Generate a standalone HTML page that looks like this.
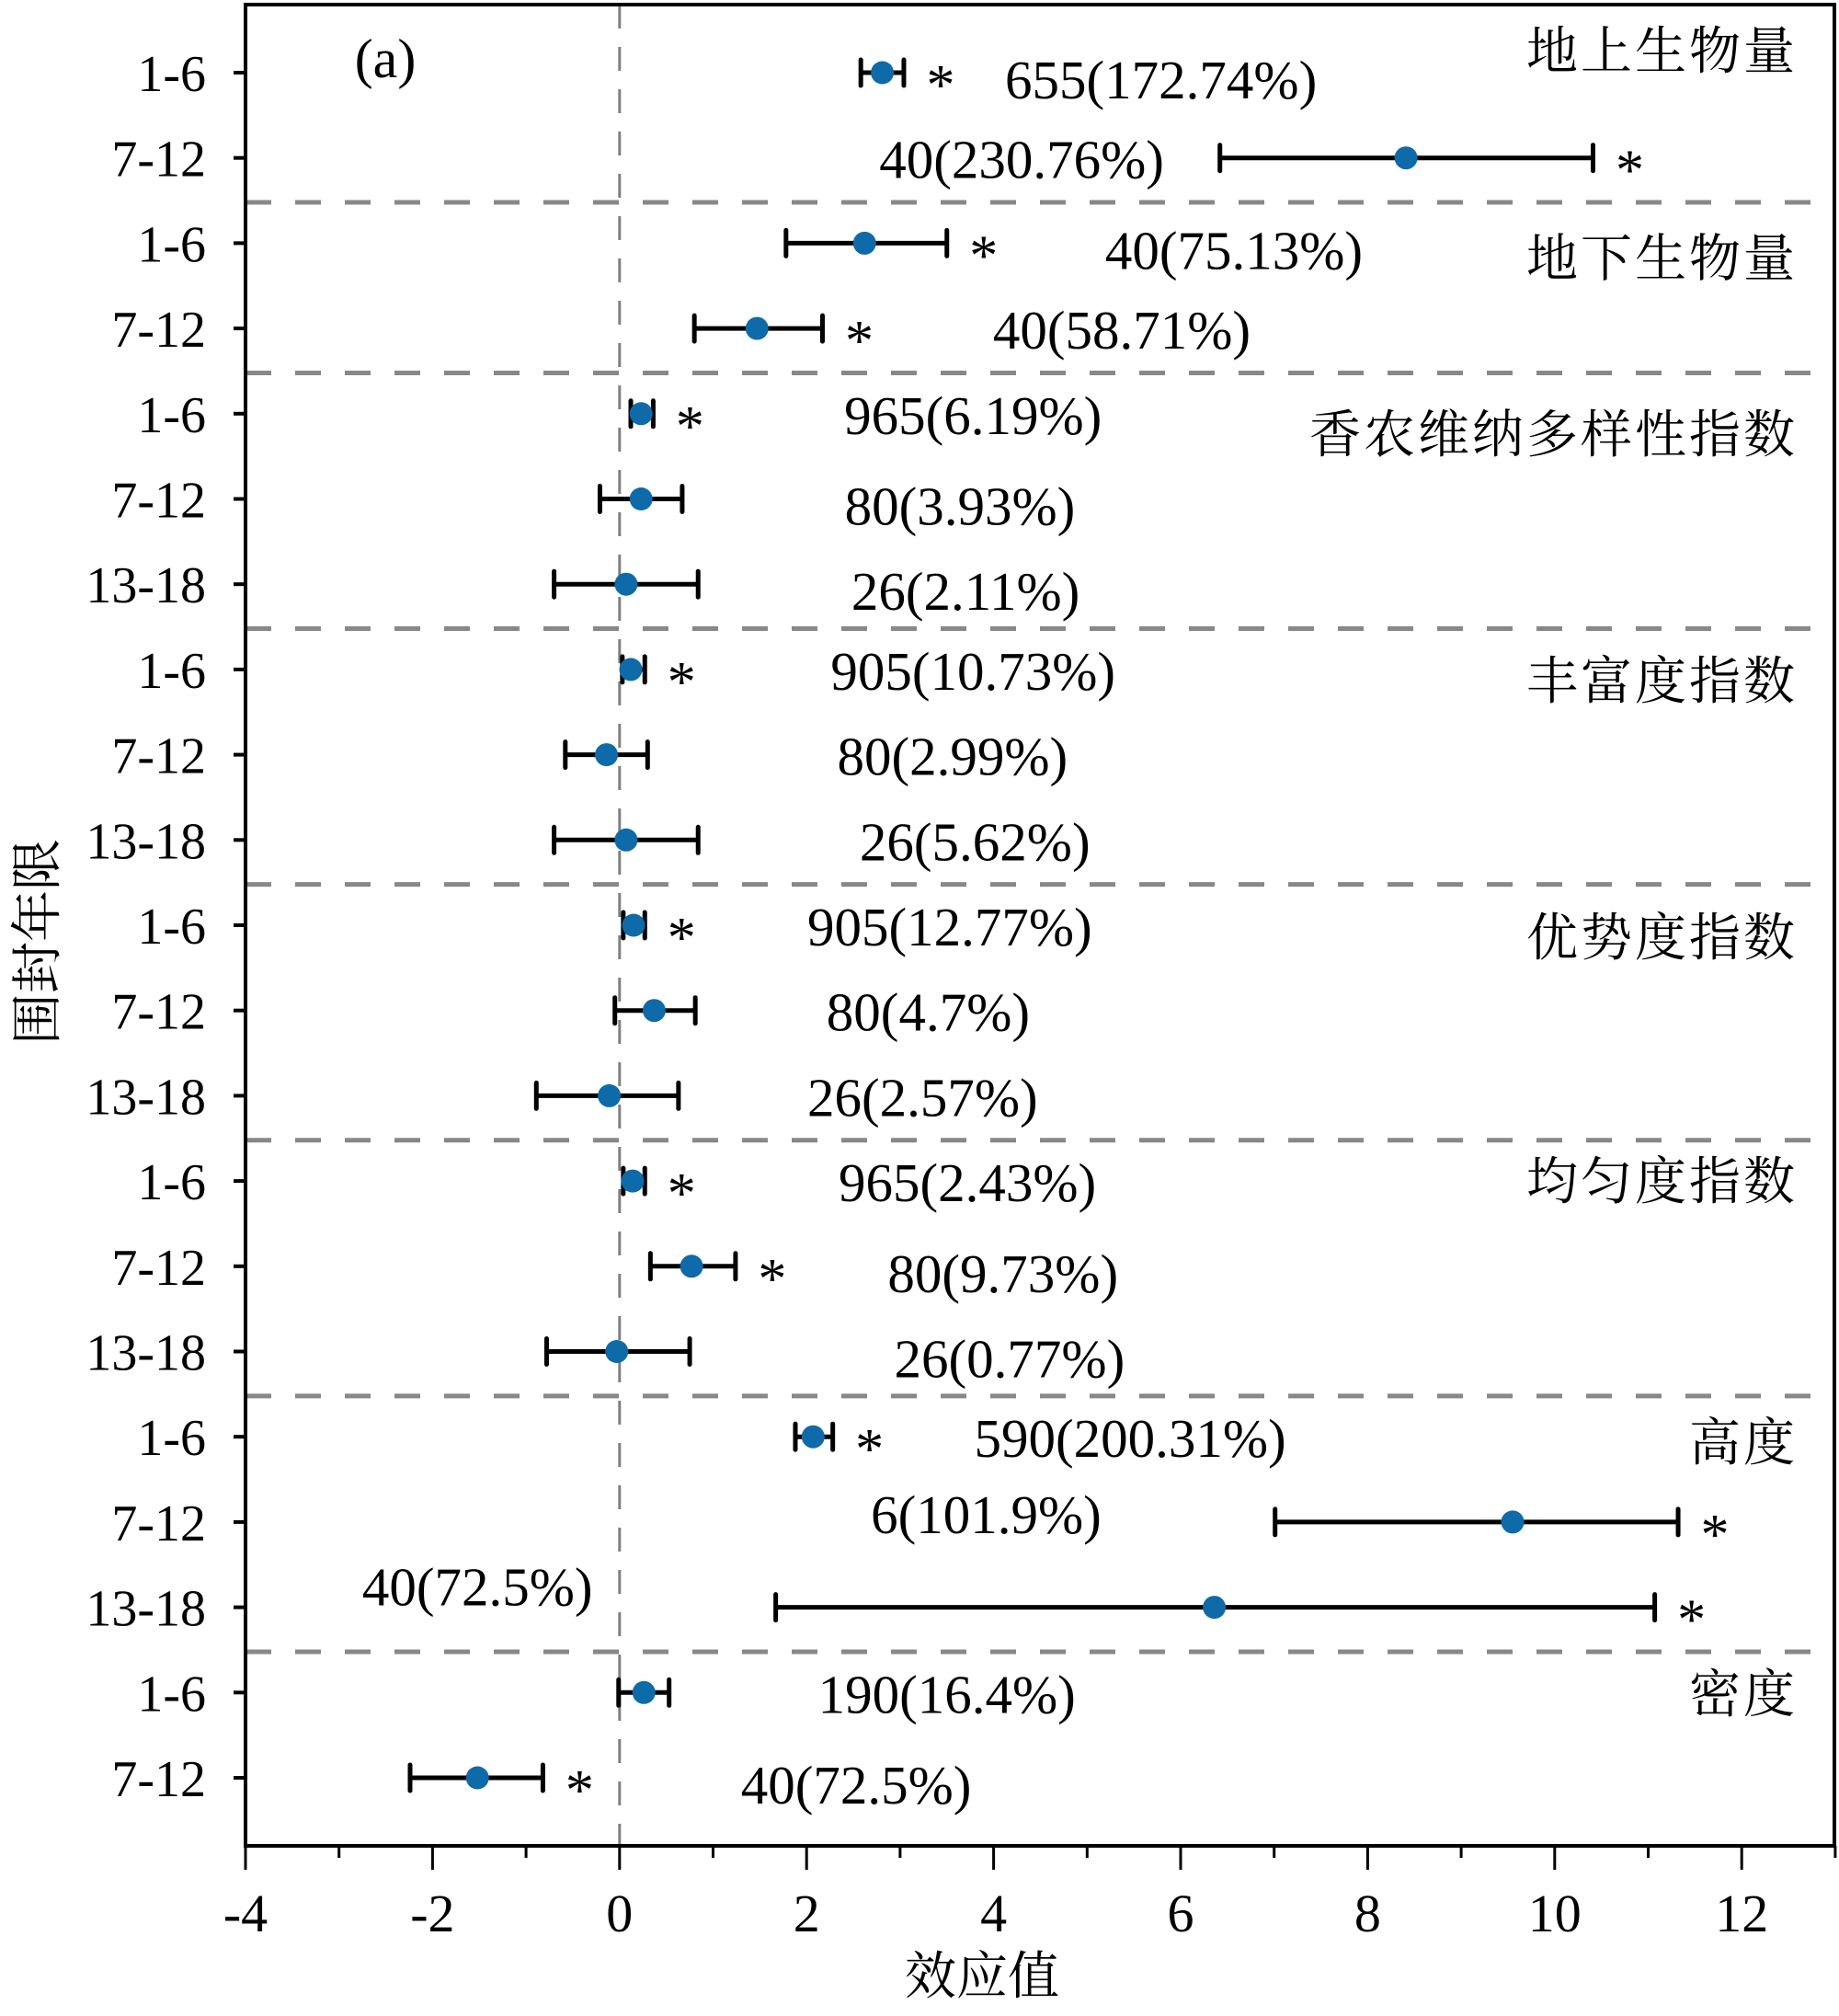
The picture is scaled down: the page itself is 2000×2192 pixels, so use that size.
<!DOCTYPE html>
<html><head><meta charset="utf-8">
<style>
html,body{margin:0;padding:0;background:#fff;}
svg{display:block;}
text{font-family:"Liberation Serif","Noto Serif CJK SC",serif;fill:#000;}
.cjk{font-family:"Noto Serif CJK SC","Liberation Serif",serif;}
</style></head>
<body>
<svg id="chart" width="2000" height="2192" viewBox="0 0 2000 2192" xmlns="http://www.w3.org/2000/svg">
<g id="grid"></g>
<g id="axes"></g>
<g id="marks"></g>
<text x="419" y="84" font-size="60" text-anchor="middle">(a)</text>
<text x="1068" y="2168" font-size="56" text-anchor="middle" class="cjk">效应值</text>
<text transform="translate(60,1024) rotate(-90)" font-size="56" text-anchor="middle" class="cjk">围封年限</text>
</svg>
<script>
const rowLabels = ["1-6","7-12","1-6","7-12","1-6","7-12","13-18","1-6","7-12","13-18","1-6","7-12","13-18","1-6","7-12","13-18","1-6","7-12","13-18","1-6","7-12"];
const means = [2.81,8.41,2.62,1.47,0.23,0.23,0.07,0.12,-0.14,0.07,0.15,0.37,-0.11,0.14,0.77,-0.03,2.07,9.55,6.36,0.26,-1.52];
const lows  = [2.58,6.42,1.78,0.80,0.12,-0.21,-0.70,0.03,-0.58,-0.70,0.04,-0.05,-0.89,0.04,0.33,-0.78,1.88,7.01,1.67,-0.01,-2.24];
const highs = [3.04,10.41,3.50,2.17,0.36,0.67,0.84,0.27,0.30,0.84,0.27,0.81,0.63,0.27,1.24,0.75,2.28,11.32,11.07,0.53,-0.82];
const signif = [1,1,1,1,1,0,0,1,0,0,1,0,0,1,1,0,1,1,1,0,1];
const nLabels = ["655(172.74%)","40(230.76%)","40(75.13%)","40(58.71%)","965(6.19%)","80(3.93%)","26(2.11%)","905(10.73%)","80(2.99%)","26(5.62%)","905(12.77%)","80(4.7%)","26(2.57%)","965(2.43%)","80(9.73%)","26(0.77%)","590(200.31%)","6(101.9%)","40(72.5%)","190(16.4%)","40(72.5%)"];
const labelAt = [5.79,4.3,6.57,5.37,3.78,3.64,3.70,3.78,3.56,3.80,3.53,3.30,3.24,3.72,4.10,4.17,5.46,3.92,-1.52,3.50,2.53];
const groupNames = ["地上生物量","地下生物量","香农维纳多样性指数","丰富度指数","优势度指数","均匀度指数","高度","密度"];
const groupSizes = [2,2,3,3,3,3,3,2];
const xTicks = [-4,-2,0,2,4,6,8,10,12];

const NS="http://www.w3.org/2000/svg";
const L=267,R=1995,T=5,B=2007,X0=-4,PX=101.7;
const xs=v=>L+(v-X0)*PX;
const ys=i=>79+i*92.7;
const titleOffset=[-4,36,42,32,33,20,26,21];
function mk(tag,attrs,parent,txt){const e=document.createElementNS(NS,tag);for(const k in attrs)e.setAttribute(k,attrs[k]);if(txt!==undefined)e.textContent=txt;parent.appendChild(e);return e;}
const grid=document.getElementById('grid'),axes=document.getElementById('axes'),marks=document.getElementById('marks');

let z=mk('line',{x1:xs(0),x2:xs(0),y1:T,y2:B,stroke:'#808080','stroke-width':3,'stroke-dasharray':'26,20'},grid);



let start=0;
groupSizes.forEach((n,g)=>{
  const ty=ys(start)+titleOffset[g];
  const t=mk('text',{x:1955,y:ty,'font-size':56,'text-anchor':'end','class':'cjk','letter-spacing':'3'},grid,groupNames[g]);
  
  
  start+=n;
  if(g<groupSizes.length-1){
    const sy=ys(start-0.5)+2;
    const s=mk('line',{x1:L,x2:R,y1:sy,y2:sy,stroke:'#888','stroke-width':5,'stroke-dasharray':'28,26'},grid);
    
    
  }
});

const fr=mk('rect',{x:L,y:T,width:R-L,height:B-T,fill:'none',stroke:'#000','stroke-width':4},axes);


for(let v=-4;v<=13;v++){
  const tk=mk('line',{x1:xs(v),x2:xs(v),y1:B,y2:B+(v%2===0?26:13),stroke:'#000','stroke-width':3},axes);
  
  
}
xTicks.forEach(v=>{
  const t=mk('text',{x:xs(v),y:2100,'font-size':58,'text-anchor':'middle'},axes,String(v));
  
  
});
rowLabels.forEach((lab,i)=>{
  const tk=mk('line',{x1:L-13,x2:L,y1:ys(i),y2:ys(i),stroke:'#000','stroke-width':4},axes);
  
  
  const t=mk('text',{x:L-43,y:ys(i)+20,'font-size':56,'text-anchor':'end'},axes,lab);
  
  
});

means.forEach((m,i)=>{
  const y=ys(i);
  const g=mk('g',{},marks);
  
  
  const eb=mk('line',{x1:xs(lows[i]),x2:xs(highs[i]),y1:y,y2:y,stroke:'#000','stroke-width':5},g);
  
  
  [lows[i],highs[i]].forEach(v=>{
    const c=mk('line',{x1:xs(v),x2:xs(v),y1:y-14,y2:y+14,stroke:'#000','stroke-width':5,'stroke-linecap':'round'},g);
    
    
  });
  const pt=mk('circle',{cx:xs(m),cy:y,r:12.5,fill:'#0e6aa8'},g);
  
  
  if(signif[i]){
    const s=mk('text',{x:xs(highs[i])+40,y:y+34,'font-size':62,'text-anchor':'middle'},g,'*');
    
    
  }
  const dy=(i===17?-8:(i===18?-22:(i===0||i===2||i===5||i===6||i===14||i===15||i===20?8:2)));
  const t=mk('text',{x:xs(labelAt[i]),y:y+20+dy,'font-size':59,'text-anchor':'middle'},g,nLabels[i]);
  
  
});
</script>
</body></html>
